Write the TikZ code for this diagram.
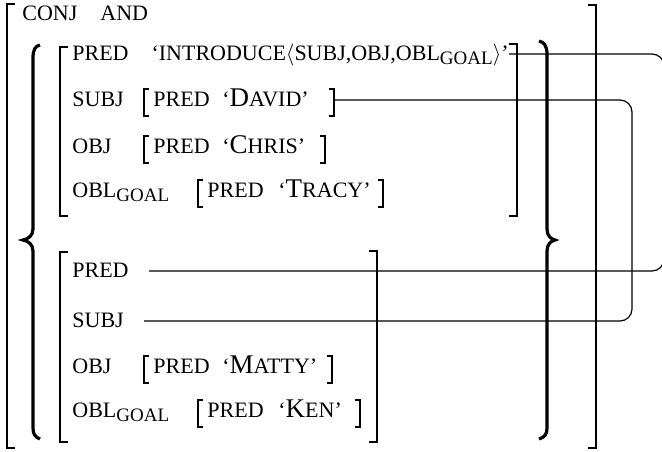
\documentclass[tikz,border=0pt]{standalone}
\usepackage{fontspec}
\setmainfont{Liberation Serif}
\usepackage{tikz}
\usetikzlibrary{calc}

\newcommand{\avmfont}{\fontsize{11}{13}\selectfont}
\newcommand{\goal}{\raisebox{-2.2pt}{\fontsize{9.5}{10}\selectfont GOAL}}
\newcommand{\bigc}[1]{{\fontsize{13.5}{14}\selectfont #1}}

\begin{document}
\begin{tikzpicture}[x=0.5pt,y=-0.5pt,
        every node/.style={inner sep=0pt,anchor=base west,font=\avmfont},
        bbr/.style={line width=1pt},
        sbr/.style={line width=0.7pt},
        brc/.style={line width=1.6pt},
        link/.style={line width=0.6pt,rounded corners=6}]
        \useasboundingbox (0,0) rectangle (662,451);

        % outer f-structure
        \draw[bbr] (15,4) -- (7,4) -- (7,448) -- (15,448);
        \draw[bbr] (588,5) -- (596,5) -- (596,448) -- (588,448);
        \node (conj) at (22,20) {CONJ};
        \node (and) at (100,20) {AND};

        % set braces
        \draw[brc] (40,45) .. controls (35,46) and (33,50) .. (33,58) -- (33,229)
            .. controls (33,236) and (28,239) .. (23,240)
            .. controls (28,241) and (33,244) .. (33,251) -- (33,428)
            .. controls (33,434) and (35,437) .. (40,439);
        \draw[brc] (539,41) .. controls (544,42) and (547,46) .. (547,54) -- (547,229)
            .. controls (547,236) and (551,239) .. (555,240)
            .. controls (551,241) and (547,244) .. (547,251) -- (547,428)
            .. controls (547,434) and (545,437) .. (539,439);

        % first conjunct
        \draw[bbr] (68,47) -- (60,47) -- (60,216) -- (68,216);
        \draw[bbr] (509,44) -- (517,44) -- (517,216) -- (509,216);
        \node (pred1) at (72,60) {PRED};
        \node[anchor=base east] (intro) at (509,60) {`INTRODUCE$\langle$SUBJ,OBJ,OBL\goal$\rangle$'};
        \node (subj1) at (72,106) {SUBJ};
        \node (subj1p) at (153,106) {PRED};
        \node (subj1v) at (222,106) {`\bigc{D}AVID'};
        \node (obj1) at (72,153) {OBJ};
        \node (obj1p) at (153,153) {PRED};
        \node (obj1v) at (222,153) {`\bigc{C}HRIS'};
        \node (obl1) at (72,197) {OBL\goal};
        \node (obl1p) at (207,197) {PRED};
        \node (obl1v) at (278,197) {`\bigc{T}RACY'};

        % second conjunct
        \draw[bbr] (68,252) -- (60,252) -- (60,442) -- (68,442);
        \draw[bbr] (369,251) -- (377,251) -- (377,442) -- (369,442);
        \node (pred2) at (72,277) {PRED};
        \node (subj2) at (72,327) {SUBJ};
        \node (obj2) at (72,373) {OBJ};
        \node (obj2p) at (153,373) {PRED};
        \node (obj2v) at (222,373) {`\bigc{M}ATTY'};
        \node (obl2) at (72,417) {OBL\goal};
        \node (obl2p) at (207,417) {PRED};
        \node (obl2v) at (278,417) {`\bigc{K}EN'};

        % small brackets
        \foreach \l/\r/\b in {144/334/106,144/325/153,198/383/197,144/332/373,198/360/417}{
            \draw[sbr] (\l+5,\b-17) -- (\l,\b-17) -- (\l,\b+10) -- (\l+5,\b+10);
            \draw[sbr] (\r-5,\b-17) -- (\r,\b-17) -- (\r,\b+10) -- (\r-5,\b+10);
        }

        % shared values
        \coordinate (dv) at (334,100);
        \coordinate (rim1) at (664,160);
        \coordinate (rim2) at (632,200);
        \draw[link] ([yshift=3pt]intro.base east) -| (rim1) |- ([xshift=10pt,yshift=3pt]pred2.base east);
        \draw[link] (dv) -| (rim2) |- ([xshift=10pt,yshift=3pt]subj2.base east);
\end{tikzpicture}
\end{document}
